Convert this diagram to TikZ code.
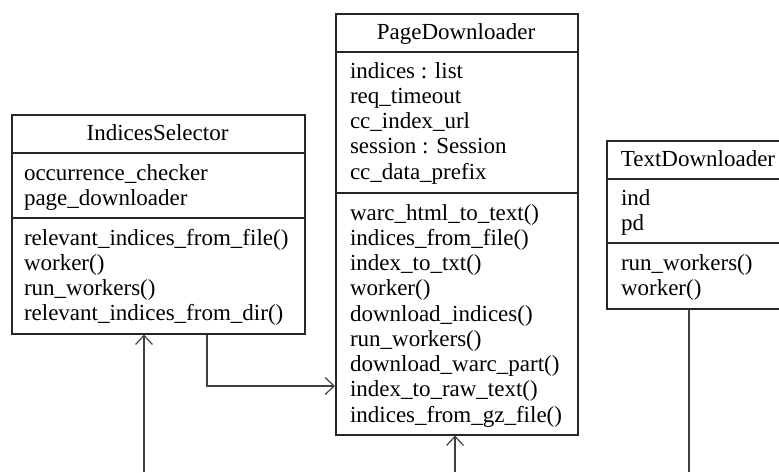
\documentclass[tikz,border=0pt]{standalone}
\usepackage{fontspec}
\setmainfont{Liberation Serif}
\usetikzlibrary{arrows.meta}

\begin{document}
\begin{tikzpicture}[x=1pt,y=-1pt,
  classbox/.style={draw=black!85, line width=1.6pt, rectangle, inner sep=0pt, anchor=north west},
  sepline/.style={draw=black!85, line width=1.6pt},
  txt/.style={inner sep=0pt, outer sep=0pt, text=black, font=\fontsize{23}{25.25}\selectfont},
  conn/.style={draw=black!75, line width=1.2pt},
  barb/.style={-{Straight Barb[length=9pt,width=17pt,line width=1.2pt]}}
]
\clip (0,0) rectangle (779,472);

% ---------- IndicesSelector ----------
\node[classbox, minimum width=293pt, minimum height=219pt] (sel) at (11,114) {};
\draw[sepline] (sel.west |- 0,153) -- (sel.east |- 0,153);
\draw[sepline] (sel.west |- 0,218) -- (sel.east |- 0,218);
\node[txt, anchor=base] (selT) at (157.5,140) {IndicesSelector};
\foreach \t [count=\i from 0] in {occurrence\_checker, page\_downloader}
  \node[txt, anchor=base west] (selA\i) at (24,{180+25*\i}) {\t};
\foreach \t [count=\i from 0] in {relevant\_indices\_from\_file(), worker(), run\_workers(), relevant\_indices\_from\_dir()}
  \node[txt, anchor=base west] (selM\i) at (24,{245+25*\i}) {\t};

% ---------- PageDownloader ----------
\node[classbox, minimum width=242pt, minimum height=421pt] (pd) at (335,13) {};
\draw[sepline] (pd.west |- 0,52) -- (pd.east |- 0,52);
\draw[sepline] (pd.west |- 0,193) -- (pd.east |- 0,193);
\node[txt, anchor=base] (pdT) at (456,39) {PageDownloader};
\foreach \t [count=\i from 0] in {indices : list, req\_timeout, cc\_index\_url, session : Session, cc\_data\_prefix}
  \node[txt, anchor=base west] (pdA\i) at (350,{78+25.25*\i}) {\t};
\foreach \t [count=\i from 0] in {warc\_html\_to\_text(), indices\_from\_file(), index\_to\_txt(), worker(), download\_indices(), run\_workers(), download\_warc\_part(), index\_to\_raw\_text(), indices\_from\_gz\_file()}
  \node[txt, anchor=base west] (pdM\i) at (350,{220+25.25*\i}) {\t};

% ---------- TextDownloader ----------
\node[classbox, minimum width=184pt, minimum height=168pt] (td) at (606,140) {};
\draw[sepline] (td.west |- 0,179) -- (td.east |- 0,179);
\draw[sepline] (td.west |- 0,243) -- (td.east |- 0,243);
\node[txt, anchor=base] (tdT) at (698,166) {TextDownloader};
\foreach \t [count=\i from 0] in {ind, pd}
  \node[txt, anchor=base west] (tdA\i) at (621,{205+25*\i}) {\t};
\foreach \t [count=\i from 0] in {run\_workers(), worker()}
  \node[txt, anchor=base west] (tdM\i) at (621,{270+25*\i}) {\t};

% ---------- connectors ----------
\coordinate (in1) at (144,472);
\coordinate (bend) at (207,386);
\coordinate (in3) at (455,472);
\coordinate (out4) at (689,472);

\draw[conn, barb] (in1) -- (in1 |- sel.south);
\draw[conn, barb] (sel.south -| bend) |- (pd.west |- bend);
\draw[conn, barb] (in3) -- (in3 |- pd.south);
\draw[conn] (td.south -| out4) -- (out4);
\end{tikzpicture}
\end{document}
